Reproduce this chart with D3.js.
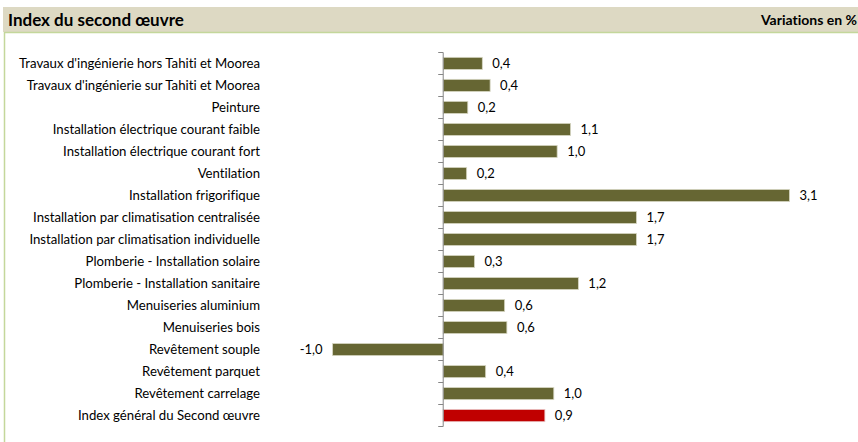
<!DOCTYPE html>
<html>
<head>
<meta charset="utf-8">
<script src="https://cdn.jsdelivr.net/npm/d3@7"></script>
<style>
  body { margin: 0; background: #fff; }
  svg { display: block; font-family: Lato, "Open Sans", sans-serif; font-variant-ligatures: none; font-feature-settings: "liga" 0, "clig" 0; }
</style>
</head>
<body>
<svg id="chart"></svg>
<script>
// Index du second oeuvre - variations en %, horizontal bars
var categories = [
	"Travaux d'ingénierie hors Tahiti et Moorea",
	"Travaux d'ingénierie sur Tahiti et Moorea",
	"Peinture",
	"Installation électrique courant faible",
	"Installation électrique courant fort",
	"Ventilation",
	"Installation frigorifique",
	"Installation par climatisation centralisée",
	"Installation par climatisation individuelle",
	"Plomberie - Installation solaire",
	"Plomberie - Installation sanitaire",
	"Menuiseries aluminium",
	"Menuiseries bois",
	"Revêtement souple",
	"Revêtement parquet",
	"Revêtement carrelage",
	"Index général du Second œuvre"
];
var values = [0.35, 0.42, 0.22, 1.14, 1.02, 0.21, 3.1, 1.73, 1.73, 0.28, 1.21, 0.55, 0.57, -0.99, 0.38, 0.99, 0.91];
var labels = ["0,4", "0,4", "0,2", "1,1", "1,0", "0,2", "3,1", "1,7", "1,7", "0,3", "1,2", "0,6", "0,6", "-1,0", "0,4", "1,0", "0,9"];
var totalIndex = "Index général du Second œuvre";

var W = 858, H = 442;
var svg = d3.select('#chart').attr('width', W).attr('height', H);

// header band
svg.append('rect').attr('x', 3).attr('y', 7).attr('width', W - 3).attr('height', 25).attr('fill', '#ddd9c3');
svg.append('text').attr('x', 8).attr('y', 25.5)
	.attr('font-size', 17).attr('font-weight', 'bold').attr('fill', '#000')
	.text('Index du second œuvre');
svg.append('text').attr('x', 857).attr('y', 24.5).attr('text-anchor', 'end')
	.attr('font-size', 14).attr('font-weight', 'bold').attr('fill', '#000')
	.text('Variations en %');

// light green frame
svg.append('path').attr('d', 'M4.5,' + H + 'V32.5H' + W)
	.attr('fill', 'none').attr('stroke', '#c4d79b').attr('stroke-width', 1.5);

var x = d3.scaleLinear().domain([-1, 3.1]).range([331.5, 789.5]);
var y = d3.scaleBand().domain(categories).range([52.5, 426.5]).paddingInner(0.45).paddingOuter(0.22);

svg.selectAll('.bar')
	.data(values)
	.join('rect')
		.attr('class', 'bar')
		.attr('x', function(d) { return x(Math.min(0, d)); })
		.attr('width', function(d) { return Math.abs(x(d) - x(0)); })
		.attr('y', function(d, i) { return y(categories[i]); })
		.attr('height', y.bandwidth())
		.attr('fill', function(d, i) { return categories[i] === totalIndex ? '#c00000' : '#666633'; })
		.attr('stroke', function(d, i) { return categories[i] === totalIndex ? '#e8c0c0' : '#d6d6c2'; })
		.attr('stroke-width', 0.8);

// value labels
svg.selectAll('.val')
	.data(values)
	.join('text')
		.attr('class', 'val')
		.attr('x', function(d) { return d < 0 ? x(d) - 10 : x(d) + 10; })
		.attr('y', function(d, i) { return y(categories[i]) + y.bandwidth() / 2; })
		.attr('dy', '0.35em')
		.attr('text-anchor', function(d) { return d < 0 ? 'end' : 'start'; })
		.attr('font-size', 13).attr('fill', '#000')
		.text(function(d, i) { return labels[i]; });

// category labels
svg.selectAll('.cat')
	.data(categories)
	.join('text')
		.attr('class', 'cat')
		.attr('x', 260)
		.attr('y', function(d) { return y(d) + y.bandwidth() / 2; })
		.attr('dy', '0.35em')
		.attr('text-anchor', 'end')
		.attr('font-size', 13.2).attr('fill', '#000')
		.text(function(d) { return d; });

// vertical axis at zero with ticks between categories
var tickPos = d3.range(categories.length + 1).map(function(i) { return 52.5 + i * (426.5 - 52.5) / categories.length; });
var axis = svg.append('g');
axis.append('line').attr('x1', x(0)).attr('x2', x(0)).attr('y1', 52.5).attr('y2', 426.5)
	.attr('stroke', '#868686').attr('stroke-width', 1);
axis.selectAll('.tk')
	.data(tickPos)
	.join('line')
		.attr('class', 'tk')
		.attr('x1', x(0) - 5).attr('x2', x(0))
		.attr('y1', function(d) { return d; }).attr('y2', function(d) { return d; })
		.attr('stroke', '#868686');
</script>
</body>
</html>
